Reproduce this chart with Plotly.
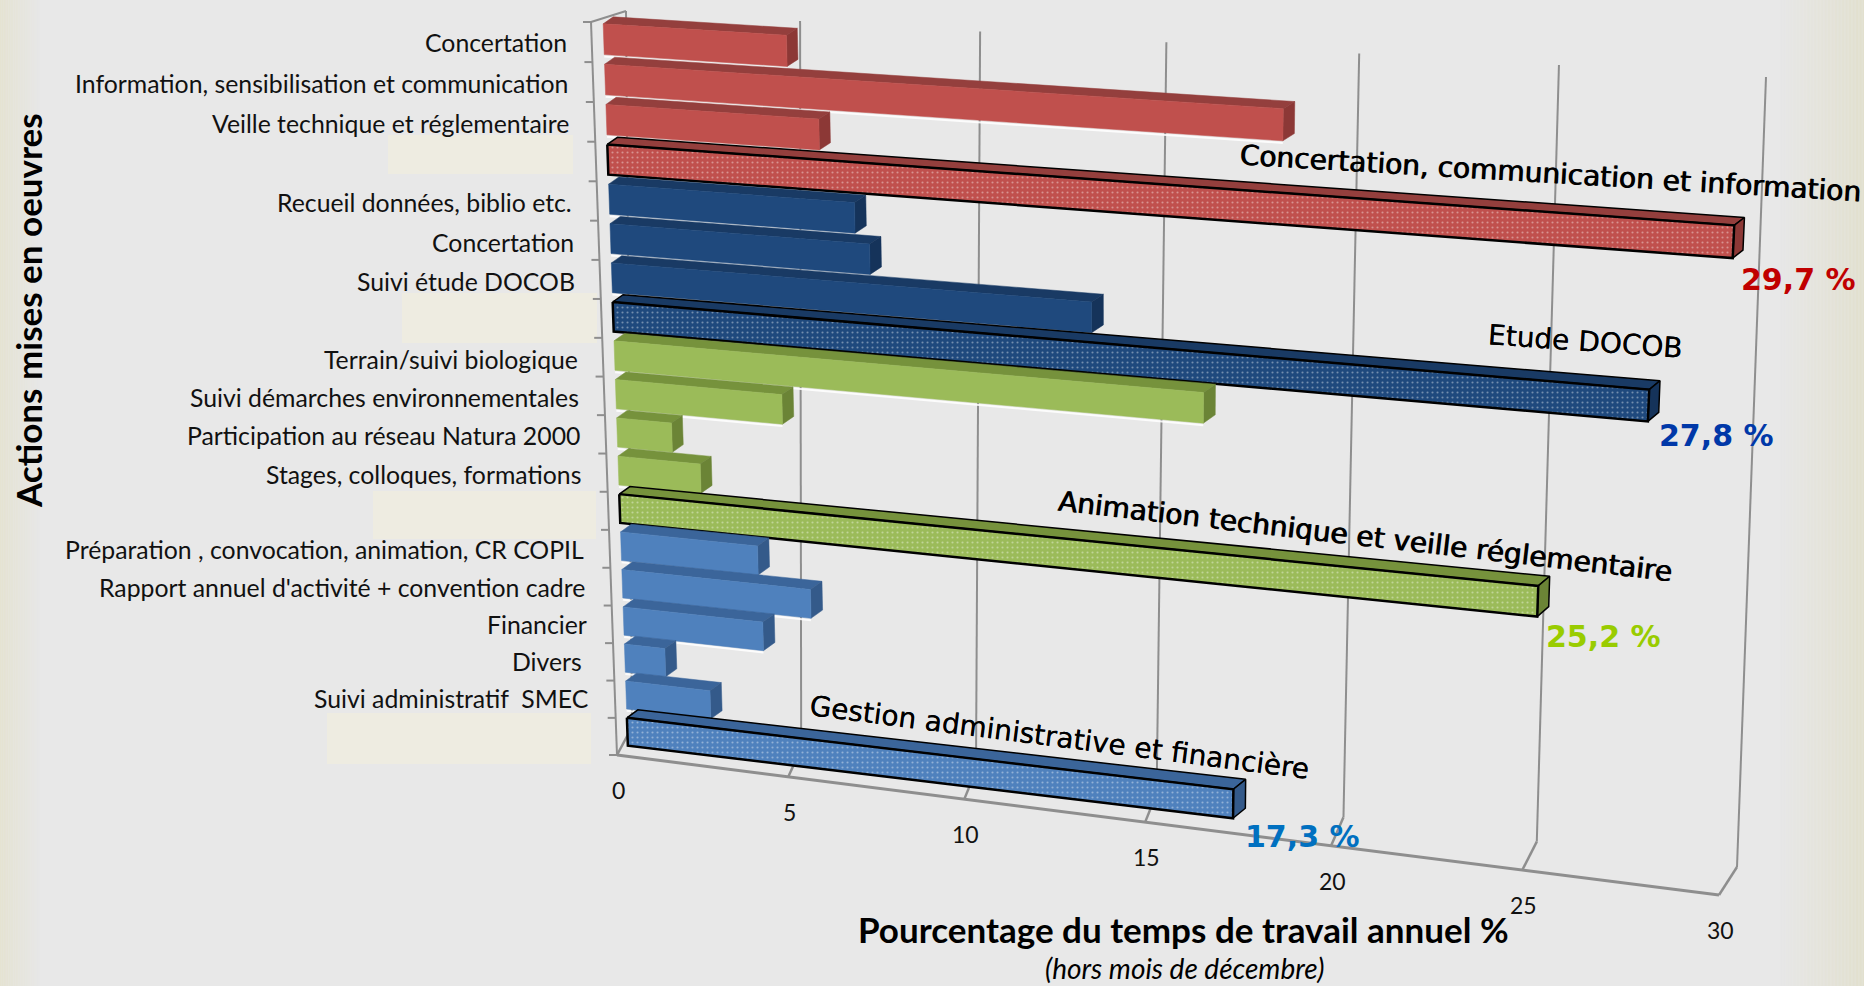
import numpy as np
import plotly.graph_objects as go

# ---------- data ----------
row_labels = ["Concertation", "Information, sensibilisation et communication",
              "Veille technique et réglementaire", "",
              "Recueil données, biblio etc.", "Concertation", "Suivi étude DOCOB", "",
              "Terrain/suivi biologique", "Suivi démarches environnementales",
              "Participation au réseau Natura 2000", "Stages, colloques, formations", "",
              "Préparation , convocation, animation, CR COPIL",
              "Rapport annuel d'activité + convention cadre", "Financier", "Divers\u00a0",
              "Suivi administratif  SMEC", ""]
row_values = [5.15, 18.4, 6.0, 29.7,
              6.95, 7.35, 13.4, 27.8,
              16.4, 4.8, 1.6, 2.4, 25.2,
              4.0, 5.5, 4.1, 1.2, 2.5, 17.3]
row_group = [0, 0, 0, 0, 1, 1, 1, 1, 2, 2, 2, 2, 2, 3, 3, 3, 3, 3, 3]
row_is_total = [0, 0, 0, 1, 0, 0, 0, 1, 0, 0, 0, 0, 1, 0, 0, 0, 0, 0, 1]
x_ticks = [0, 5, 10, 15, 20, 25, 30]
group_front = ["#C0504D", "#1F497D", "#9BBB59", "#4F81BD"]
group_top = ["#943F3D", "#193A64", "#76923C", "#3B659A"]
group_end = ["#8C3836", "#15335A", "#6B8436", "#345A8A"]

group_titles = ["Concertation, communication et information", "Etude DOCOB",
                "Animation technique et veille réglementaire",
                "Gestion administrative et financière"]
group_pct = ["29,7 %", "27,8 %", "25,2 %", "17,3 %"]
pct_colors = ["#C00000", "#0038A8", "#99CC00", "#0070C0"]
y_title = "Actions mises en oeuvres"
x_title = "Pourcentage du temps de travail annuel %"
x_sub = "(hors mois de décembre)"

# ---------- projection of the 3D chart box on to the page ----------
W, H = 1864, 986
VMAX, RMAX = 30.0, 19.0
GAP = 0.12


def homography(corners):
    """corners: v0r0, vMr0, vMrM, v0rM"""
    src = [(0, 0), (VMAX, 0), (VMAX, RMAX), (0, RMAX)]
    a, b = [], []
    for (u, w), (x, y) in zip(src, corners):
        a.append([u, w, 1, 0, 0, 0, -u * x, -w * x]); b.append(x)
        a.append([0, 0, 0, u, w, 1, -u * y, -w * y]); b.append(y)
    h = np.append(np.linalg.solve(np.array(a, float), np.array(b, float)), 1).reshape(3, 3)

    def f(v, r):
        p = h @ np.array([v, r, 1.0])
        return float(p[0] / p[2]), float(p[1] / p[2])
    return f


wall = homography([(626, 11), (1766, 77), (1737, 867), (632, 727)])
floor_front = homography([(591, 22), (1740, 102), (1719, 895), (617, 755)])
bar_front = homography([(603, 19), (1753, 90), (1716, 881), (628, 750)])
bar_back = homography([(613, 12), (1763, 83), (1727, 869), (639, 742)])

fig = go.Figure()


def line(pts, color="#8E8E8E", width=2):
    fig.add_trace(go.Scatter(x=[p[0] for p in pts], y=[p[1] for p in pts], mode="lines",
                             line=dict(color=color, width=width), hoverinfo="skip"))


def poly(pts, color, outline=None, pattern=False, width=2):
    xs = [p[0] for p in pts] + [pts[0][0]]
    ys = [p[1] for p in pts] + [pts[0][1]]
    kw = {}
    if pattern:
        kw["fillpattern"] = dict(shape=".", bgcolor=color, fgcolor="rgba(255,255,255,0.38)",
                                 size=5, solidity=0.14, fillmode="replace")
    fig.add_trace(go.Scatter(x=xs, y=ys, mode="lines", fill="toself", fillcolor=color,
                             line=dict(color=outline or color, width=width if outline else 0.5),
                             hoverinfo="skip", **kw))


# grid: back wall, floor, left axis
for v in x_ticks:
    line([wall(v, 0), wall(v, RMAX)])
    line([wall(v, RMAX), floor_front(v, RMAX)], width=2.5)
line([floor_front(0, RMAX), floor_front(VMAX, RMAX)], width=3)
line([floor_front(0, 0), floor_front(0, RMAX)])
line([floor_front(0, 0), wall(0, 0)])
for r in range(20):
    x0, y0 = floor_front(0, r)
    line([(x0 - 8, y0), (x0, y0)])

# bars, painted from the top row down
for i, val in enumerate(row_values):
    g = row_group[i]
    total = bool(row_is_total[i])
    r0, r1 = i + GAP, i + 1 - GAP
    ol = "#000000" if total else None
    if not total:
        line([bar_front(0, r1 + 0.05), bar_front(val, r1 + 0.05)], color="rgba(255,255,255,0.85)", width=2)
    poly([bar_front(0, r0), bar_back(0, r0), bar_back(val, r0), bar_front(val, r0)],
         group_top[g], outline=ol, width=1.5)
    poly([bar_front(val, r0), bar_back(val, r0), bar_back(val, r1), bar_front(val, r1)],
         group_end[g], outline=ol, width=1.5)
    poly([bar_front(0, r0), bar_front(val, r0), bar_front(val, r1), bar_front(0, r1)],
         group_front[g], outline=ol, pattern=total, width=2.5)

masks = [(388, 135, 573, 174), (402, 293, 597, 343), (373, 491, 596, 539), (327, 713, 591, 764)]

annotations = []


def txt(x, y, s, size, color="#000000", family="Lato", angle=0, anchor="center"):
    annotations.append(dict(x=x, y=y, xref="x", yref="y", text=s, showarrow=False, textangle=angle,
                            xanchor=anchor, yanchor="middle",
                            font=dict(family=family, size=size, color=color)))


for i, lab in enumerate(row_labels):
    if lab:
        x0, y0 = bar_front(0, i + 0.5)
        txt(x0 - 35, y0 + 3.5, lab, 24.8, anchor="right", color="#111111")
for v in x_ticks:
    x0, y0 = floor_front(v, RMAX)
    txt(x0 + 1, y0 + 35, str(v), 23, color="#111111")

COMIC = "Comic Sans MS, DejaVu Sans"
title_pos = [(1550, 173, 3.4), (1585, 341, 4.0), (1365, 536, 6.6), (1059, 737, 7.3)]
pct_pos = [(1798, 279), (1716, 435), (1603, 636), (1302, 836)]
for t, (x0, y0, a) in zip(group_titles, title_pos):
    # doubled with a tiny shift: the reference lettering is heavier than the regular face
    txt(x0, y0, t, 28, family=COMIC, angle=a)
    txt(x0 + 0.7, y0 + 0.3, t, 28, family=COMIC, angle=a)
for t, c, (x0, y0) in zip(group_pct, pct_colors, pct_pos):
    txt(x0, y0, "<b>" + t + "</b>", 30, color=c, family=COMIC)

txt(28, 311, "<b>" + y_title + "</b>", 35, angle=-90)
txt(1183, 929, "<b>" + x_title + "</b>", 35)
txt(1184, 968, "<i>" + x_sub + "</i>", 28)

# page background
shapes = [dict(type="rect", xref="x", yref="y", x0=0, x1=W, y0=0, y1=H, fillcolor="#E8E8E8",
               line_width=0, layer="below")]
for k in range(24):
    t = 1 - k / 24
    c = "rgb(%d,%d,%d)" % (232 - 3 * t, 232 - 5 * t, 232 - 22 * t)
    shapes.append(dict(type="rect", xref="x", yref="y", x0=k * 1.7, x1=k * 1.7 + 1.7, y0=0, y1=H,
                       fillcolor=c, line_width=0, layer="below"))
for k in range(60):
    t = (k + 1) / 60
    c = "rgb(%d,%d,%d)" % (232 - 6 * t, 232 - 8 * t, 232 - 26 * t)
    shapes.append(dict(type="rect", xref="x", yref="y", x0=1780 + k * 1.4, x1=1780 + (k + 1) * 1.4, y0=0, y1=H,
                       fillcolor=c, line_width=0, layer="below"))
for a, b, c, d in masks:
    shapes.append(dict(type="rect", xref="x", yref="y", x0=a, y0=b, x1=c, y1=d, fillcolor="#EEECE1",
                       line_width=0, layer="below"))

fig.update_layout(width=W, height=H, margin=dict(l=0, r=0, t=0, b=0), showlegend=False,
                  paper_bgcolor="#E8E8E8", plot_bgcolor="rgba(0,0,0,0)",
                  xaxis=dict(range=[0, W], visible=False, fixedrange=True),
                  yaxis=dict(range=[H, 0], visible=False, fixedrange=True),
                  annotations=annotations, shapes=shapes)
fig.write_html("out.html", config={"displayModeBar": False},
               post_script="document.body.style.margin='0';document.body.style.overflow='hidden';")
